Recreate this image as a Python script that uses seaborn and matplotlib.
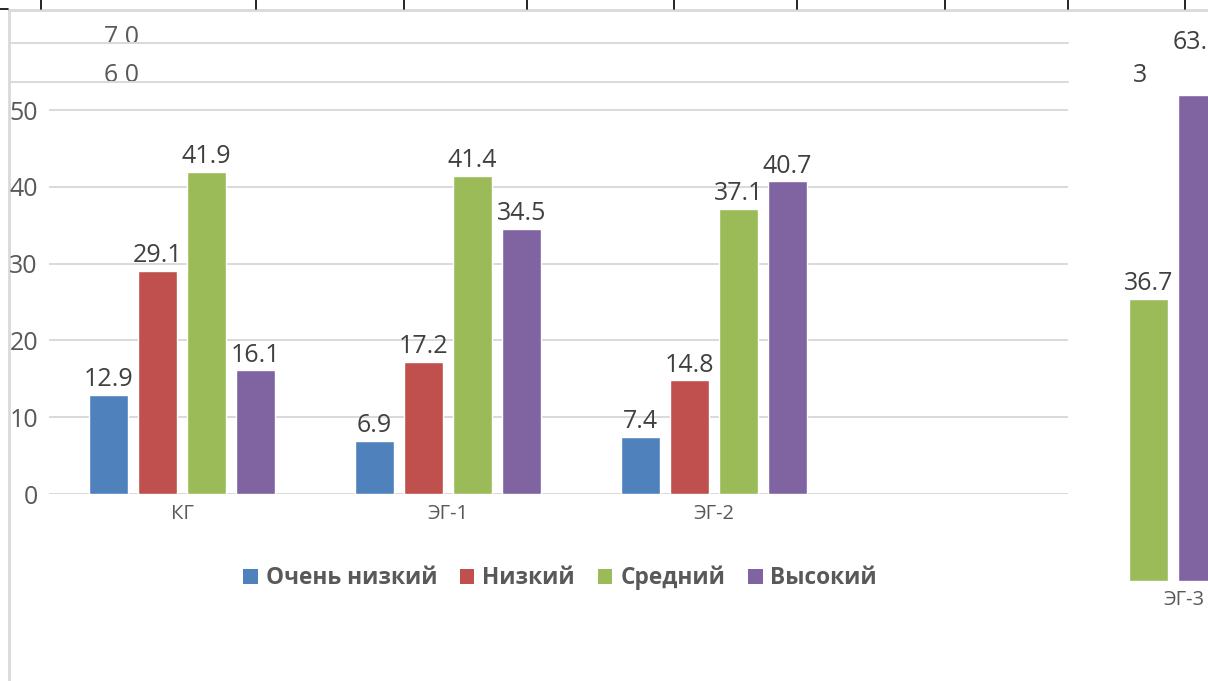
import matplotlib
matplotlib.use("Agg")
import matplotlib.pyplot as plt
from matplotlib.lines import Line2D
from matplotlib.patches import Patch
import numpy as np
import pandas as pd
import seaborn as sns

# ---- data -------------------------------------------------------------
groups = ["КГ", "ЭГ-1", "ЭГ-2"]
levels = ["Очень низкий", "Низкий", "Средний", "Высокий"]
very_low = [12.9, 6.9, 7.4]
low = [29.1, 17.2, 14.8]
medium = [41.9, 41.4, 37.1]
high = [16.1, 34.5, 40.7]

# fragment of the fourth group that sits at the right edge
eg3_group = ["ЭГ-3"]
eg3_values = [np.nan, np.nan, 36.7, 63.3]

y_ticks = [0, 10, 20, 30, 40, 50]
stray_labels = ["7 0", "6 0"]

colors = ["#4F81BD", "#C0504D", "#9BBB59", "#8064A2"]
palette = dict(zip(levels, colors))

# ---- long tables -------------------------------------------------------
series = [very_low, low, medium, high]
df = pd.DataFrame(
    [(g, lvl, vals[i]) for lvl, vals in zip(levels, series) for i, g in enumerate(groups)],
    columns=["group", "level", "value"],
)
df3 = pd.DataFrame(
    [(eg3_group[0], lvl, v) for lvl, v in zip(levels, eg3_values)],
    columns=["group", "level", "value"],
)

# ---- style -------------------------------------------------------------
sns.set_theme(style="white")
plt.rcParams["font.family"] = ["Open Sans", "DejaVu Sans"]

W, H = 1208, 681
fig = plt.figure(figsize=(W / 100, H / 100), dpi=100)
fig.patch.set_facecolor("white")


def fx(px):
    return px / W


def fy(py):
    return 1 - py / H


TICK_C = "#595959"
LABEL_C = "#404040"
GRID_C = "#D9D9D9"

# scale: 76.8 px per 10 units, zero line at y=494
unit = 7.68
cat = 266.0
zero_y = 494

# ---- main axes ---------------------------------------------------------
left_px, right_px = 49, 1068
top_val = 60
ax = fig.add_axes([fx(left_px), fy(zero_y), fx(right_px - left_px), top_val * unit / H])
ax.set_zorder(2)
ax.patch.set_alpha(0)
sns.barplot(
    data=df, x="group", y="value", hue="level", order=groups, hue_order=levels,
    palette=palette, width=0.737, gap=0.2, saturation=1, legend=False, ax=ax,
    errorbar=None,
)
x0 = -0.5
ax.set_xlim(x0, x0 + (right_px - left_px) / cat)
ax.set_ylim(0, top_val)
ax.set_yticks(y_ticks)
ax.set_xlabel("")
ax.set_ylabel("")
for s in ax.spines.values():
    s.set_visible(False)
for t in y_ticks:
    ax.axhline(t, color=GRID_C, lw=1.4, zorder=0)
ax.tick_params(axis="y", length=0, pad=8, labelsize=18, labelcolor=TICK_C)
ax.tick_params(axis="x", length=0, pad=7, labelsize=14.5, labelcolor=TICK_C)
for c in ax.containers:
    ax.bar_label(c, fmt="%.1f", padding=2, fontsize=18, color=LABEL_C)

# ---- right-edge fragment (ЭГ-3) ---------------------------------------
zero3 = 581
center3 = 1124
ax3_left = 1068
top3 = 75
ax3 = fig.add_axes([fx(ax3_left), fy(zero3), fx(W - ax3_left), top3 * unit / H])
ax3.patch.set_alpha(0)
sns.barplot(
    data=df3, x="group", y="value", hue="level", order=eg3_group, hue_order=levels,
    palette=palette, width=0.737, gap=0.2, saturation=1, legend=False, ax=ax3,
    errorbar=None,
)
ax3.set_xlim((ax3_left - center3) / cat, (W - center3) / cat)
ax3.set_ylim(0, top3)
ax3.set_yticks([])
ax3.set_xticks([])
ax3.set_xlabel("")
ax3.set_ylabel("")
for s in ax3.spines.values():
    s.set_visible(False)
ax3.annotate(eg3_group[0], xy=(0, 0), xycoords=("data", "axes fraction"),
             xytext=(60, -9), textcoords="offset pixels", ha="center", va="top",
             fontsize=14.5, color=TICK_C)
label_pads = [2, 2, 2, 29]
for c, pad in zip(ax3.containers, label_pads):
    for lbl in ax3.bar_label(c, fmt="%.1f", padding=pad, fontsize=18, color=LABEL_C):
        lbl.set_clip_on(True)

# ---- chart frame and sheet borders ------------------------------------
fig.add_artist(Line2D([fx(9), fx(9)], [fy(10), fy(H)], color=GRID_C, lw=2))
fig.add_artist(Line2D([fx(9), fx(W)], [fy(10), fy(10)], color=GRID_C, lw=2))
for gy in (43, 82):
    fig.add_artist(Line2D([fx(10), fx(right_px)], [fy(gy), fy(gy)], color=GRID_C, lw=1.4, zorder=3))
for bx in (41, 256, 404, 527, 674, 797, 945, 1068, 1185):
    fig.add_artist(Line2D([fx(bx), fx(bx)], [fy(0), fy(9)], color="black", lw=1.2))
fig.add_artist(Line2D([fx(0), fx(8)], [fy(9), fy(9)], color="black", lw=1.2))

# stray axis labels near the top
fig.text(fx(122), fy(38), stray_labels[0], ha="center", va="center", fontsize=18, color=TICK_C, zorder=1)
fig.text(fx(122), fy(76), stray_labels[1], ha="center", va="center", fontsize=18, color=TICK_C, zorder=1)
fig.text(fx(1140), fy(76), "3", ha="center", va="center", fontsize=18, color=LABEL_C)

# ---- legend ------------------------------------------------------------
handles = [Patch(facecolor=palette[l], edgecolor="none", label=l) for l in levels]
leg = fig.legend(
    handles=handles, loc="center", bbox_to_anchor=(fx(560), fy(578)), ncol=4,
    frameon=False, handlelength=0.65, handleheight=0.65, handletextpad=0.35,
    columnspacing=1.0, prop={"weight": "bold", "size": 16.3},
)
for t in leg.get_texts():
    t.set_color(TICK_C)

fig.savefig("out.png", dpi=100, facecolor="white")
